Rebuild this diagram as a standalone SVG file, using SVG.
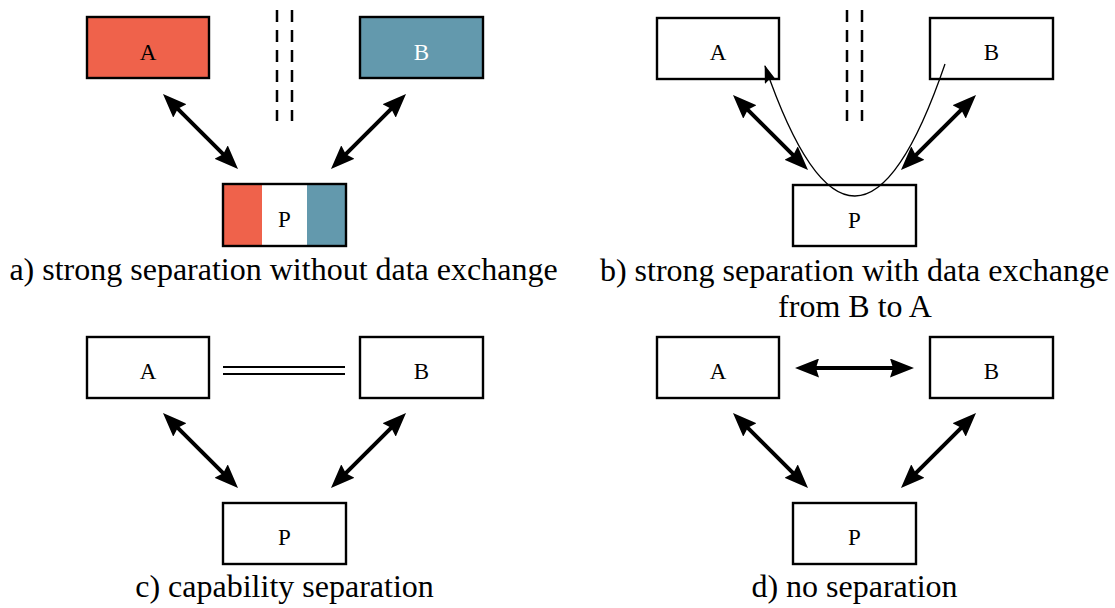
<svg xmlns="http://www.w3.org/2000/svg" width="1115" height="608" viewBox="0 0 1115 608">
  <style>
    .box { fill: #ffffff; stroke: #000000; stroke-width: 2.4; }
    .frame { fill: none; stroke: #000000; stroke-width: 2.4; }
    .red { fill: #ef624b; }
    .blue { fill: #6399ad; }
    .lbl { font-family: "Liberation Serif", "Times New Roman", serif; font-size: 23px; text-anchor: middle; fill: #000000; }
    .lbl-w { fill: #ffffff; }
    .cap { font-family: "Liberation Serif", "Times New Roman", serif; font-size: 32px; text-anchor: middle; fill: #000000; }
    .dbl { stroke: #000000; stroke-width: 4; fill: none; marker-start: url(#head); marker-end: url(#head); }
    .thin { stroke: #000000; stroke-width: 1.3; fill: none; marker-end: url(#thinhead); }
    .wall { stroke: #000000; stroke-width: 2.5; stroke-dasharray: 12 8; fill: none; }
    .rail { stroke: #000000; stroke-width: 2.2; fill: none; }
  </style>
  <defs>
    <marker id="head" viewBox="0 0 24 19" refX="8" refY="9.5" markerWidth="24" markerHeight="19" markerUnits="userSpaceOnUse" orient="auto-start-reverse">
      <path d="M0,0 L24,9.5 L0,19 L3,9.5 Z" fill="#000000"/>
    </marker>
    <marker id="thinhead" viewBox="0 0 18 12" refX="17" refY="6" markerWidth="18" markerHeight="12" markerUnits="userSpaceOnUse" orient="auto">
      <path d="M0,0 L18,6 L0,12 L3,6 Z" fill="#000000"/>
    </marker>
  </defs>

  <!-- a) strong separation without data exchange -->
  <g id="a-A">
    <rect class="box red" x="87" y="17" width="122" height="61"/>
    <text class="lbl" x="148" y="60">A</text>
  </g>
  <g id="a-B">
    <rect class="box blue" x="360" y="17" width="123" height="61"/>
    <text class="lbl lbl-w" x="421.5" y="60">B</text>
  </g>
  <g id="a-P">
    <rect class="red" x="223" y="184" width="39" height="62"/>
    <rect fill="#ffffff" x="262" y="184" width="45" height="62"/>
    <rect class="blue" x="307" y="184" width="39" height="62"/>
    <rect class="frame" x="223" y="184" width="123" height="62"/>
    <text class="lbl" x="284.5" y="227">P</text>
  </g>

  <!-- b) strong separation with data exchange from B to A -->
  <g id="b-A">
    <rect class="box" x="657" y="18" width="122" height="61"/>
    <text class="lbl" x="718" y="60">A</text>
  </g>
  <g id="b-B">
    <rect class="box" x="930" y="18" width="123" height="61"/>
    <text class="lbl" x="991.5" y="60">B</text>
  </g>
  <g id="b-P">
    <rect class="box" x="793" y="185" width="123" height="61"/>
    <text class="lbl" x="854.5" y="228">P</text>
  </g>

  <!-- c) capability separation -->
  <g id="c-A">
    <rect class="box" x="87" y="337" width="122" height="61"/>
    <text class="lbl" x="148" y="379">A</text>
  </g>
  <g id="c-B">
    <rect class="box" x="360" y="337" width="123" height="61"/>
    <text class="lbl" x="421.5" y="379">B</text>
  </g>
  <g id="c-P">
    <rect class="box" x="223" y="503" width="123" height="61"/>
    <text class="lbl" x="284.5" y="545">P</text>
  </g>

  <!-- d) no separation -->
  <g id="d-A">
    <rect class="box" x="657" y="337" width="122" height="61"/>
    <text class="lbl" x="718" y="379">A</text>
  </g>
  <g id="d-B">
    <rect class="box" x="930" y="337" width="123" height="61"/>
    <text class="lbl" x="991.5" y="379">B</text>
  </g>
  <g id="d-P">
    <rect class="box" x="793" y="503" width="123" height="61"/>
    <text class="lbl" x="854.5" y="545">P</text>
  </g>

  <!-- separation walls -->
  <g id="walls">
    <line class="wall" x1="277" y1="10" x2="277" y2="121"/>
    <line class="wall" x1="292" y1="10" x2="292" y2="121"/>
    <line class="wall" x1="847" y1="10" x2="847" y2="121"/>
    <line class="wall" x1="862" y1="10" x2="862" y2="121"/>
    <line class="rail" x1="223" y1="367" x2="345" y2="367"/>
    <line class="rail" x1="223" y1="374" x2="345" y2="374"/>
  </g>

  <!-- connectors -->
  <g id="connectors">
    <line class="dbl" x1="174.3" y1="105.3" x2="226.7" y2="157.7"/>
    <line class="dbl" x1="394.7" y1="105.3" x2="342.3" y2="157.7"/>
    <line class="dbl" x1="744.3" y1="106.3" x2="796.7" y2="158.7"/>
    <line class="dbl" x1="964.7" y1="106.3" x2="912.3" y2="158.7"/>
    <path class="thin" d="M945,64 Q855,327 765,66"/>
    <line class="dbl" x1="174.3" y1="424.3" x2="226.7" y2="476.7"/>
    <line class="dbl" x1="394.7" y1="424.3" x2="342.3" y2="476.7"/>
    <line class="dbl" x1="744.3" y1="424.3" x2="796.7" y2="476.7"/>
    <line class="dbl" x1="964.7" y1="424.3" x2="912.3" y2="476.7"/>
    <line class="dbl" x1="811" y1="368" x2="898" y2="368"/>
  </g>

  <!-- captions -->
  <g id="captions">
    <text class="cap" x="283.5" y="280">a) strong separation without data exchange</text>
    <text class="cap" x="854.5" y="281">b) strong separation with data exchange</text>
    <text class="cap" x="855" y="317">from B to A</text>
    <text class="cap" x="284.5" y="597">c) capability separation</text>
    <text class="cap" x="854.5" y="597">d) no separation</text>
  </g>
</svg>
